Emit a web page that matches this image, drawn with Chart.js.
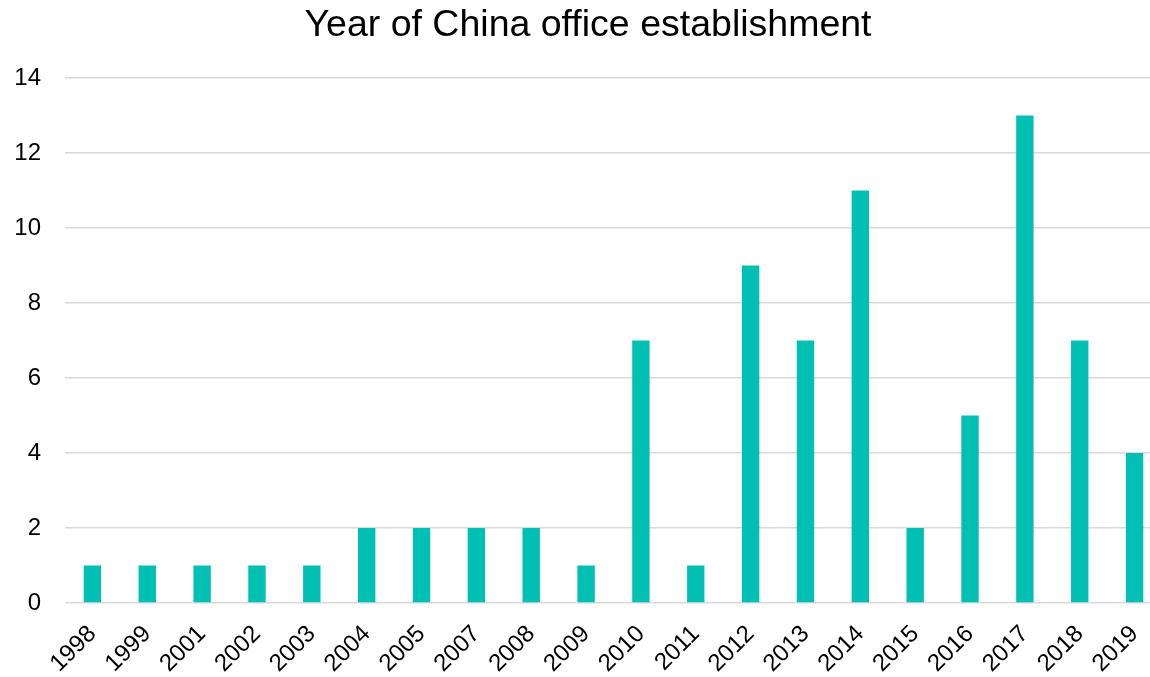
<!DOCTYPE html>
<html>
<head>
<meta charset="utf-8">
<script src="https://cdn.jsdelivr.net/npm/chart.js@4"></script>
<style>
html,body{margin:0;padding:0;overflow:hidden;background:#fff;}
</style>
</head>
<body>
<canvas id="c" width="1202" height="677" style="width:1202px;height:677px;display:block"></canvas>
<script>
const categories = ["1998","1999","2001","2002","2003","2004","2005","2007","2008","2009","2010","2011","2012","2013","2014","2015","2016","2017","2018","2019"];
const offices = [1,1,1,1,1,2,2,2,2,1,7,1,9,7,11,2,5,13,7,4];
const yTicks = [0,2,4,6,8,10,12,14];
const titleText = "Year of China office establishment";

Chart.defaults.font.family = "'Liberation Sans', Arial, sans-serif";
Chart.defaults.color = "#000";

new Chart(document.getElementById('c'), {
  type: 'bar',
  data: {
    labels: categories,
    datasets: [{
      data: offices,
      backgroundColor: '#00C0B3',
      categoryPercentage: 1,
      barPercentage: 0.317
    }]
  },
  options: {
    responsive: false,
    animation: false,
    devicePixelRatio: 1,
    layout: { autoPadding: false, padding: { left: 14, right: 40, top: 3, bottom: 0 } },
    plugins: {
      legend: { display: false },
      tooltip: { enabled: false },
      title: {
        display: true,
        text: titleText,
        color: '#000',
        font: { size: 37.5, weight: 'normal' },
        padding: { top: 0, bottom: 30 }
      }
    },
    scales: {
      x: {
        grid: { display: false },
        border: { display: false },
        afterFit: (s) => { s.height = 74; },
        ticks: {
          maxRotation: 45, minRotation: 45,
          font: { size: 24 }, color: '#000', padding: 9
        }
      },
      y: {
        min: 0, max: 14,
        afterBuildTicks: (s) => { s.ticks = yTicks.map(v => ({ value: v })); },
        afterFit: (s) => { s.width = 51; },
        border: { display: false },
        grid: { color: '#d9d9d9', lineWidth: 1.5, drawTicks: false },
        ticks: { font: { size: 24 }, color: '#000', padding: 24 }
      }
    }
  }
});
</script>
</body>
</html>
